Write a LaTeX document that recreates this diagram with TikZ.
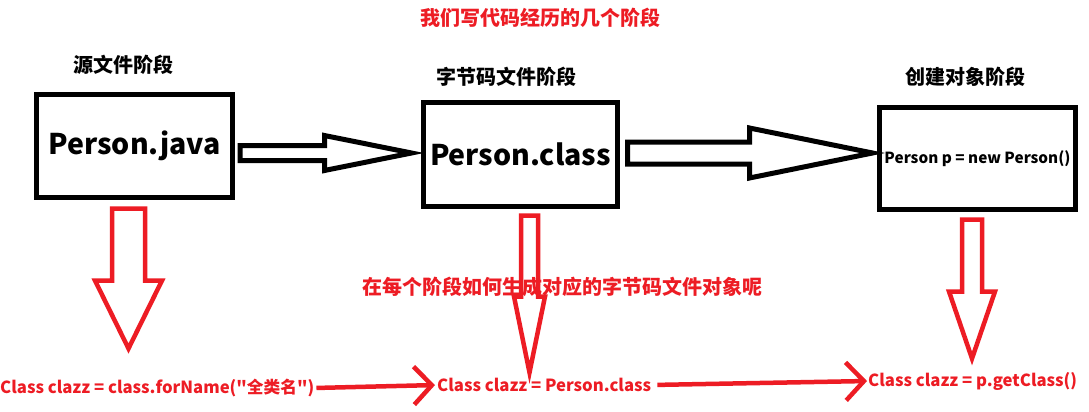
\documentclass[tikz,border=0pt]{standalone}
\usepackage{fontspec}
\setmainfont{Noto Sans CJK SC}[Ligatures=TeXOff]
\usetikzlibrary{arrows.meta,calc}
\definecolor{pred}{HTML}{ED1C24}
\begin{document}
\begin{tikzpicture}[x=1pt,y=-1pt,
  box/.style={draw=black,line width=5pt,minimum width=196pt,minimum height=103pt,inner sep=0pt,font=\bfseries\fontsize{28.5}{34}\selectfont},
  title/.style={font=\bfseries\fontsize{20}{24}\selectfont,inner sep=0pt},
  redtxt/.style={text=pred,font=\bfseries\fontsize{16.7}{20}\selectfont,inner sep=0pt},
  hollow/.style={draw=black,line width=5pt,line join=miter,fill=white},
  redhollow/.style={draw=pred,line width=4.5pt,line join=miter},
  redline/.style={draw=pred,line width=4.5pt,-{Straight Barb[length=18pt,width=38pt]}}]
\useasboundingbox[fill=white] (0,0) rectangle (1089,412);

% titles
\node[title,text=pred] (top) at (540,18) {我们写代码经历的几个阶段};
\node[title] (t1) at (123,65) {源文件阶段};
\node[title] (t2) at (506,77) {字节码文件阶段};
\node[title] (t3) at (965,77) {创建对象阶段};

% boxes
\node[box] (b1) at (134.5,146) {\raisebox{3pt}{Person.java}};
\node[box,minimum width=194pt,minimum height=104pt] (b2) at (520.5,154.5) {\raisebox{-4pt}{Person.class}};
\node[box,minimum height=102pt,font=\bfseries\fontsize{15.3}{18}\selectfont] (b3) at (977.5,158.5) {Person p = new Person()};

% black hollow arrows
\draw[hollow] let \p1=($(b1.east)+(5pt,-7pt)$), \p2=($(b2.west)+(-9.5pt,0pt)$) in
  (\x1,\y1+7.5pt) -- (\x2-87pt,\y1+7.5pt) -- (\x2-87pt,\y1+17.5pt) -- (\x2,\y1)
  -- (\x2-87pt,\y1-17.5pt) -- (\x2-87pt,\y1-7.5pt) -- (\x1,\y1-7.5pt) -- cycle;
\draw[hollow] let \p1=($(b2.east)+(7.5pt,1.5pt)$), \p2=($(b3.west)+(-4.5pt,0pt)$) in
  (\x1,\y1+11pt) -- (\x2-123pt,\y1+11pt) -- (\x2-123pt,\y1+25pt) -- (\x2,\y1)
  -- (\x2-123pt,\y1-25pt) -- (\x2-123pt,\y1-11pt) -- (\x1,\y1-11pt) -- cycle;

% red hollow down arrows
\draw[redhollow] let \p1=($(b1.south)+(-6pt,-8.5pt)$) in
  (\x1-16.5pt,\y1) -- (\x1-16.5pt,\y1-72pt) -- (\x1-33.5pt,\y1-72pt) -- (\x1,\y1-140pt)
  -- (\x1+33.5pt,\y1-72pt) -- (\x1+16.5pt,\y1-72pt) -- (\x1+16.5pt,\y1) -- cycle;
\draw[redhollow] let \p1=($(b2.south)+(9pt,-6.5pt)$) in
  (\x1-8.5pt,\y1) -- (\x1-8.5pt,\y1-81pt) -- (\x1-15.5pt,\y1-81pt) -- (\x1,\y1-157pt)
  -- (\x1+15.5pt,\y1-81pt) -- (\x1+8.5pt,\y1-81pt) -- (\x1+8.5pt,\y1) -- cycle;
\draw[redhollow] let \p1=($(b3.south)+(-5.5pt,-7.5pt)$) in
  (\x1-10pt,\y1) -- (\x1-10pt,\y1-72pt) -- (\x1-23pt,\y1-72pt) -- (\x1,\y1-139pt)
  -- (\x1+23pt,\y1-72pt) -- (\x1+10pt,\y1-72pt) -- (\x1+10pt,\y1) -- cycle;

% middle question
\node[redtxt,font=\bfseries\fontsize{20}{24}\selectfont] (mid) at (562,287) {在每个阶段如何生成对应的字节码文件对象呢};

% bottom expressions
\node[redtxt,anchor=west] (c1) at (0,388) {Class clazz = class.forName("全类名")};
\node[redtxt,anchor=west] (c2) at (437,385) {Class clazz = Person.class};
\node[redtxt,anchor=west] (c3) at (868,381) {Class clazz = p.getClass()};
\draw[redline,shorten <=2pt,shorten >=2pt] (c1.east) -- (c2.west);
\draw[redline,shorten <=6pt,shorten >=1pt] (c2.east) -- (c3.west);
\end{tikzpicture}
\end{document}
